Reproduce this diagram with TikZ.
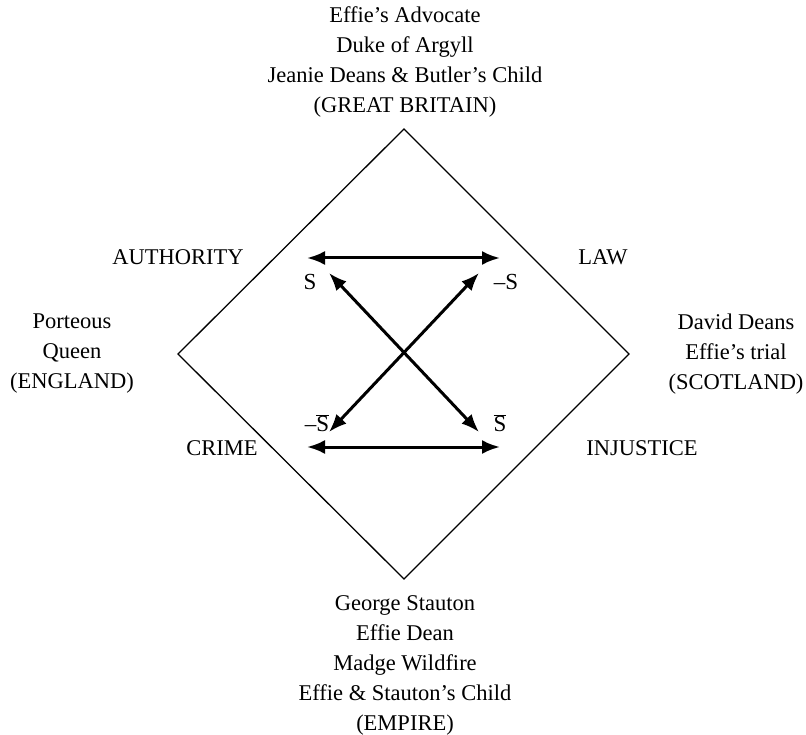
\documentclass[tikz,border=0pt]{standalone}
\usepackage{fontspec}
\setmainfont{Liberation Serif}
\usetikzlibrary{arrows.meta}
\tikzset{
  lbl/.style={font=\fontsize{22.5}{30}\selectfont, align=center, inner sep=0pt},
  sym/.style={font=\fontsize{23}{26}\selectfont, inner sep=0pt},
  frame/.style={line width=1.3pt, line join=miter},
  rel/.style={line width=3pt, {Latex[length=18pt,width=14pt]}-{Latex[length=18pt,width=14pt]}}
}
\begin{document}
\begin{tikzpicture}[x=1pt,y=-1pt]
\useasboundingbox (0,0) rectangle (806,735);

% square of oppositions
\coordinate (top) at (404,129);
\coordinate (left) at (178,354);
\coordinate (right) at (629,354);
\coordinate (bottom) at (404,579);
\draw[frame] (top) -- (right) -- (bottom) -- (left) -- cycle;

% arrow end points
\coordinate (tl) at (307,258);
\coordinate (tr) at (500,258);
\coordinate (bl) at (307,447);
\coordinate (br) at (500,447);
\coordinate (dtl) at (329,273);
\coordinate (dtr) at (479,273);
\coordinate (dbl) at (329,432);
\coordinate (dbr) at (479,432);

\draw[rel] (tl) -- (tr);
\draw[rel] (bl) -- (br);
\draw[rel] (dtl) -- (dbr);
\draw[rel] (dtr) -- (dbl);

% semiotic terms
\node[sym] (s) at (310,282) {S};
\node[sym] (ns) at (506,282) {–S};
\node[sym] (nsb) at (317,423) {–$\overline{\mbox{S}}$};
\node[sym] (sb) at (500,423) {$\overline{\mbox{S}}$};

% corner labels
\node[lbl] (authority) at (178,257) {AUTHORITY};
\node[lbl] (law) at (603,257) {LAW};
\node[lbl] (crime) at (222,448) {CRIME};
\node[lbl] (injustice) at (642,448) {INJUSTICE};

% vertex labels
\node[lbl] (gb) at (405,62) {Effie’s Advocate\\Duke of Argyll\\Jeanie Deans \& Butler’s Child\\(GREAT BRITAIN)};
\node[lbl] (eng) at (72,354) {Porteous\\Queen\\(ENGLAND)};
\node[lbl] (scot) at (736,354) {David Deans\\Effie’s trial\\(SCOTLAND)};
\node[lbl] (emp) at (405,665) {George Stauton\\Effie Dean\\Madge Wildfire\\Effie \& Stauton’s Child\\(EMPIRE)};
\end{tikzpicture}
\end{document}
